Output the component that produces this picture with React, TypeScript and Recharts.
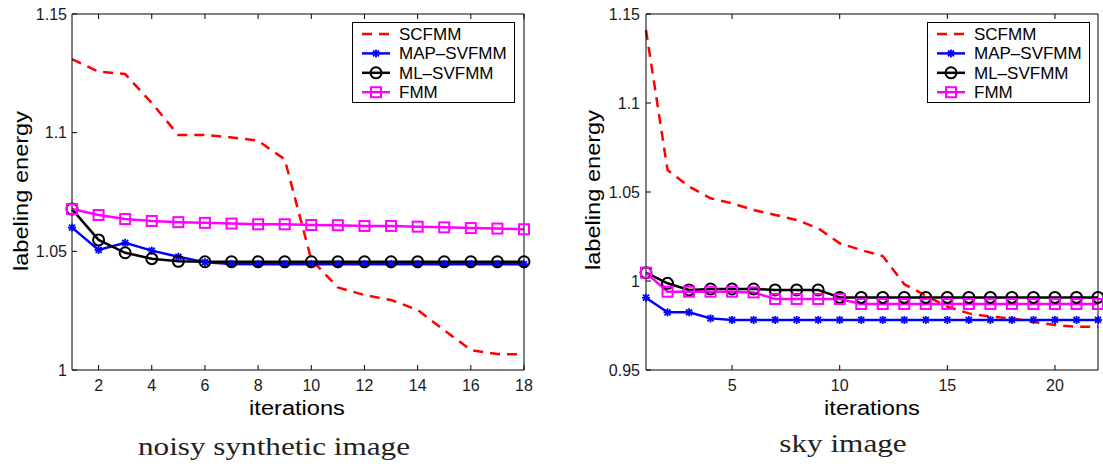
import React from 'react';
import { LineChart, Line, XAxis, YAxis, Legend } from 'recharts';

// iterations
const iterLeft = [1, 2, 3, 4, 5, 6, 7, 8, 9, 10, 11, 12, 13, 14, 15, 16, 17, 18];
const iterRight = [1, 2, 3, 4, 5, 6, 7, 8, 9, 10, 11, 12, 13, 14, 15, 16, 17, 18, 19, 20, 21, 22];

// noisy synthetic image
const scLeft = [1.131, 1.1257, 1.1247, 1.1125, 1.099, 1.099, 1.098, 1.0966, 1.0888, 1.0465, 1.0348, 1.0316, 1.0295, 1.0253, 1.0168, 1.0084, 1.0067, 1.0066];
const mapLeft = [1.06, 1.0506, 1.0536, 1.0503, 1.0477, 1.0454, 1.0447, 1.0446, 1.0446, 1.0446, 1.0446, 1.0446, 1.0446, 1.0446, 1.0446, 1.0446, 1.0446, 1.0446];
const mlLeft = [1.0678, 1.0548, 1.0494, 1.0469, 1.0458, 1.0456, 1.0456, 1.0456, 1.0456, 1.0456, 1.0456, 1.0456, 1.0456, 1.0456, 1.0456, 1.0456, 1.0456, 1.0456];
const fmmLeft = [1.0678, 1.0653, 1.0636, 1.0628, 1.0623, 1.062, 1.0617, 1.0614, 1.0614, 1.0611, 1.061, 1.0607, 1.0607, 1.0604, 1.0601, 1.0598, 1.0596, 1.0593];

// sky image
const scRight = [1.141, 1.0624, 1.053, 1.0465, 1.0436, 1.0399, 1.0371, 1.0343, 1.0296, 1.0212, 1.0174, 1.014, 0.9982, 0.9918, 0.9856, 0.9818, 0.98, 0.979, 0.9771, 0.9753, 0.9743, 0.9743];
const mapRight = [0.9906, 0.9824, 0.9824, 0.979, 0.9781, 0.9781, 0.9781, 0.9781, 0.9781, 0.9781, 0.9781, 0.9781, 0.9781, 0.9781, 0.9781, 0.9781, 0.9781, 0.9781, 0.9781, 0.9781, 0.9781, 0.9781];
const mlRight = [1.0047, 0.9987, 0.995, 0.9955, 0.9955, 0.9955, 0.995, 0.995, 0.995, 0.9908, 0.9908, 0.9908, 0.9908, 0.9908, 0.9908, 0.9908, 0.9908, 0.9908, 0.9908, 0.9908, 0.9908, 0.9908];
const fmmRight = [1.0047, 0.994, 0.994, 0.994, 0.994, 0.9936, 0.9899, 0.9899, 0.9899, 0.9899, 0.9871, 0.9871, 0.9871, 0.9871, 0.9871, 0.9871, 0.9871, 0.9871, 0.9871, 0.9871, 0.9871, 0.9871];

const xTicksLeft = [2, 4, 6, 8, 10, 12, 14, 16, 18];
const xTicksRight = [5, 10, 15, 20];
const yTicksLeft = [1, 1.05, 1.1, 1.15];
const yTicksRight = [0.95, 1, 1.05, 1.1, 1.15];

const seriesNames = ['SCFMM', 'MAP–SVFMM', 'ML–SVFMM', 'FMM'];

const series = [
  { key: 'sc', name: seriesNames[0], color: '#ff0000', dash: '10 7', marker: 'none' },
  { key: 'map', name: seriesNames[1], color: '#0000ff', dash: undefined, marker: 'star' },
  { key: 'ml', name: seriesNames[2], color: '#000000', dash: undefined, marker: 'circle' },
  { key: 'fmm', name: seriesNames[3], color: '#ff00ff', dash: undefined, marker: 'square' },
];

const buildRows = (it: number[], sc: number[], map: number[], ml: number[], fmm: number[]) =>
  it.map((v, i) => ({ it: v, sc: sc[i], map: map[i], ml: ml[i], fmm: fmm[i] }));

const leftData = buildRows(iterLeft, scLeft, mapLeft, mlLeft, fmmLeft);
const rightData = buildRows(iterRight, scRight, mapRight, mlRight, fmmRight);

const SANS = '"Liberation Sans", Arial, Helvetica, sans-serif';
const SERIF = '"Liberation Serif", "Times New Roman", serif';

const drawMarker = (kind: string, cx: number, cy: number, color: string, key?: string | number) => {
  if (kind === 'star') {
    return (
      <g key={key} stroke={color} strokeWidth={1.8}>
        <line x1={cx - 4} y1={cy} x2={cx + 4} y2={cy} />
        <line x1={cx} y1={cy - 4} x2={cx} y2={cy + 4} />
        <line x1={cx - 3} y1={cy - 3} x2={cx + 3} y2={cy + 3} />
        <line x1={cx - 3} y1={cy + 3} x2={cx + 3} y2={cy - 3} />
      </g>
    );
  }
  if (kind === 'circle') {
    return <circle key={key} cx={cx} cy={cy} r={5.5} fill="none" stroke={color} strokeWidth={2} />;
  }
  if (kind === 'square') {
    return <rect key={key} x={cx - 5} y={cy - 5} width={10} height={10} fill="none" stroke={color} strokeWidth={2} />;
  }
  return <g key={key} />;
};

const LegendBox = () => (
  <svg width={163} height={81} style={{ display: 'block' }}>
    <rect x={0.5} y={0.5} width={162} height={80} fill="#fff" stroke="#000" strokeWidth={1} />
    {series.map((s, i) => {
      const y = 12 + i * 19.4;
      return (
        <g key={s.key}>
          <line x1={10} y1={y} x2={38} y2={y} stroke={s.color} strokeWidth={2.5} strokeDasharray={s.dash} />
          {drawMarker(s.marker, 24, y, s.color)}
          <text x={47} y={y + 6} fontSize={17} fontFamily={SANS} fill="#000">
            {s.name}
          </text>
        </g>
      );
    })}
  </svg>
);

interface PanelProps {
  data: any[];
  width: number;
  xDomain: [number, number];
  xTicks: number[];
  yDomain: [number, number];
  yTicks: number[];
  margin: { top: number; right: number; bottom: number; left: number };
  yAxisWidth: number;
  yTickMargin: number;
  legendLeft: number;
}

const tickStyle = { fontSize: 16, fill: '#1a1a1a', fontFamily: SANS };

const Panel = ({ data, width, xDomain, xTicks, yDomain, yTicks, margin, yAxisWidth, yTickMargin, legendLeft }: PanelProps) => (
  <LineChart width={width} height={400} data={data} margin={margin}>
    <XAxis
      dataKey="it"
      type="number"
      domain={xDomain}
      ticks={xTicks}
      height={30}
      stroke="#000"
      tickSize={-5}
      tickMargin={15}
      tick={tickStyle}
      interval={0}
    />
    <XAxis
      xAxisId="top"
      orientation="top"
      dataKey="it"
      type="number"
      domain={xDomain}
      ticks={xTicks}
      height={1}
      stroke="#000"
      tickSize={-5}
      tickFormatter={() => ''}
      interval={0}
    />
    <YAxis
      type="number"
      domain={yDomain}
      ticks={yTicks}
      width={yAxisWidth}
      stroke="#000"
      tickSize={-5}
      tickMargin={yTickMargin}
      tick={tickStyle}
      interval={0}
      tickFormatter={(v: number) => String(v)}
    />
    <YAxis
      yAxisId="right"
      orientation="right"
      type="number"
      domain={yDomain}
      ticks={yTicks}
      width={1}
      stroke="#000"
      tickSize={-5}
      tickFormatter={() => ''}
      interval={0}
    />
    {series.map((s) => (
      <Line
        key={s.key}
        dataKey={s.key}
        name={s.name}
        type="linear"
        stroke={s.color}
        strokeWidth={2.5}
        strokeDasharray={s.dash}
        dot={s.marker === 'none' ? false : (p: any) => drawMarker(s.marker, p.cx, p.cy, s.color, p.index)}
        activeDot={false}
        isAnimationActive={false}
      />
    ))}
    <Legend
      layout="vertical"
      align="center"
      verticalAlign="middle"
      content={() => <LegendBox />}
      wrapperStyle={{ left: legendLeft, top: 22, width: 163, height: 81 }}
    />
  </LineChart>
);

const yTitle: React.CSSProperties = {
  position: 'absolute',
  fontFamily: SANS,
  fontSize: 20,
  lineHeight: '20px',
  whiteSpace: 'nowrap',
  color: '#000',
};

export default function App() {
  return (
    <div style={{ position: 'absolute', left: 0, top: 0, width: 1103, height: 472, background: '#fff', overflow: 'hidden' }}>
      <div style={{ position: 'absolute', left: 0, top: 0 }}>
        <Panel
          data={leftData}
          width={548}
          xDomain={[1, 18]}
          xTicks={xTicksLeft}
          yDomain={[1, 1.15]}
          yTicks={yTicksLeft}
          margin={{ top: 13, right: 23, bottom: 0, left: 12 }}
          yAxisWidth={60}
          yTickMargin={10}
          legendLeft={352}
        />
      </div>
      <div style={{ position: 'absolute', left: 556, top: 0 }}>
        <Panel
          data={rightData}
          width={547}
          xDomain={[1, 22]}
          xTicks={xTicksRight}
          yDomain={[0.95, 1.15]}
          yTicks={yTicksRight}
          margin={{ top: 13, right: 4, bottom: 0, left: 10 }}
          yAxisWidth={80}
          yTickMargin={11}
          legendLeft={371}
        />
      </div>

      <div style={{ ...yTitle, left: 21, top: 191, transform: 'translate(-50%, -50%) rotate(-90deg) scaleX(1.18)' }}>labeling energy</div>
      <div style={{ ...yTitle, left: 593, top: 190, transform: 'translate(-50%, -50%) rotate(-90deg) scaleX(1.18)' }}>labeling energy</div>

      <div style={{ ...yTitle, left: 297, top: 398, transform: 'translateX(-50%) scaleX(1.18)' }}>iterations</div>
      <div style={{ ...yTitle, left: 872, top: 398, transform: 'translateX(-50%) scaleX(1.18)' }}>iterations</div>

      <div style={{ position: 'absolute', left: 274, top: 434, fontFamily: SERIF, fontSize: 26, lineHeight: '26px', whiteSpace: 'nowrap', color: '#222', transform: 'translateX(-50%) scaleX(1.2)' }}>
        noisy synthetic image
      </div>
      <div style={{ position: 'absolute', left: 843, top: 431, fontFamily: SERIF, fontSize: 26, lineHeight: '26px', whiteSpace: 'nowrap', color: '#222', transform: 'translateX(-50%) scaleX(1.2)' }}>
        sky image
      </div>
    </div>
  );
}
